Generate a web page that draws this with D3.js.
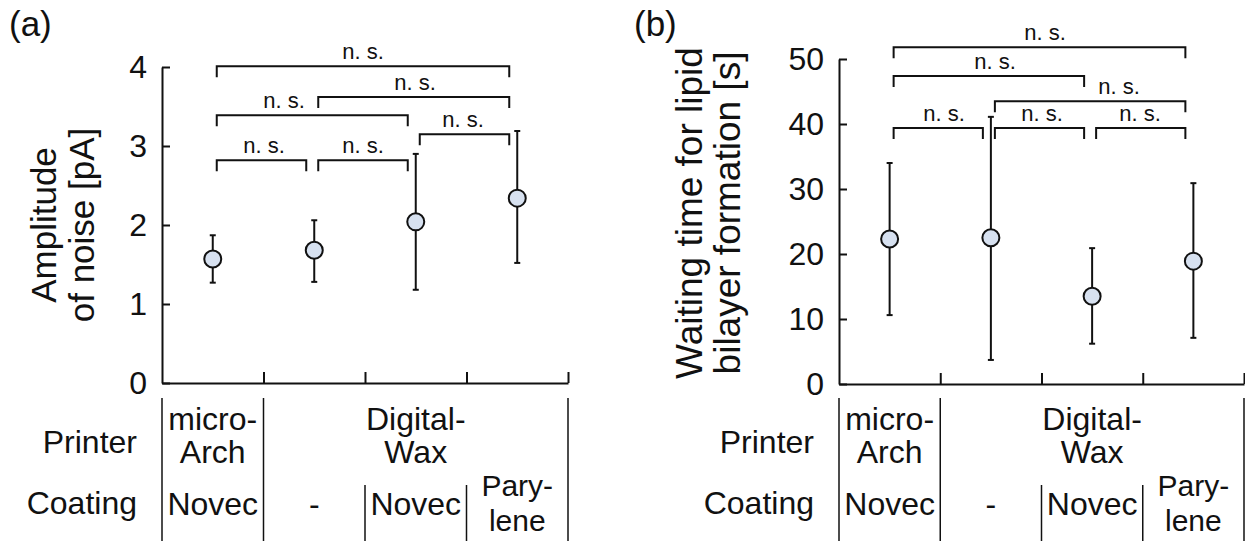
<!DOCTYPE html>
<html>
<head>
<meta charset="utf-8">
<script src="https://cdn.jsdelivr.net/npm/d3@7"></script>
<style>
  body { margin: 0; background: #fff; }
  svg { display: block; font-family: "Liberation Sans", Arial, sans-serif; }
</style>
</head>
<body>
<svg id="chart" width="1245" height="542"></svg>
<script>
// groups on the x axis (printer / coating)
var groups = ['micro-Arch Novec', 'Digital-Wax -', 'Digital-Wax Novec', 'Digital-Wax Parylene'];

// (a) amplitude of noise [pA]
var noiseMean = [1.57, 1.68, 2.04, 2.34];
var noiseLow = [1.27, 1.28, 1.18, 1.52];
var noiseHigh = [1.87, 2.06, 2.90, 3.19];
var noiseTicks = [0, 1, 2, 3, 4];
// comparisons: [from group, to group, bracket height]
var noisePairs = [[0, 3, 4.01], [1, 3, 3.62], [0, 2, 3.39], [2, 3, 3.15], [0, 1, 2.82], [1, 2, 2.82]];
var noisePairText = ['n. s.', 'n. s.', 'n. s.', 'n. s.', 'n. s.', 'n. s.'];

// (b) waiting time for lipid bilayer formation [s]
var waitMean = [22.3, 22.5, 13.5, 18.9];
var waitLow = [10.6, 3.7, 6.2, 7.1];
var waitHigh = [34.0, 41.1, 20.9, 30.9];
var waitTicks = [0, 10, 20, 30, 40, 50];
var waitPairs = [[0, 3, 51.8], [0, 2, 47.4], [1, 3, 43.5], [0, 1, 39.4], [1, 2, 39.4], [2, 3, 39.4]];
var waitPairText = ['n. s.', 'n. s.', 'n. s.', 'n. s.', 'n. s.', 'n. s.'];

// condition table under the plots
var printerRows = [{ text: ['micro-', 'Arch'], from: 0, to: 1 }, { text: ['Digital-', 'Wax'], from: 1, to: 4 }];
var coatingRows = [['Novec'], ['-'], ['Novec'], ['Pary-', 'lene']];

var svg = d3.select('#chart');

// draws one panel; layout numbers live here, not in the data
var drawPanel = function (p) {
  var g = svg.append('g');
  var x = d3.scaleLinear().domain([0, groups.length]).range([p.left, p.right]);
  var y = d3.scaleLinear().domain([0, p.ticks[p.ticks.length - 1]]).range([p.bottom, p.top]);
  var cx = function (i) { return x(i + 0.5); };

  // panel letter
  g.append('text').attr('x', p.letterX).attr('y', 36)
    .attr('font-size', 35).attr('fill', '#111').text(p.letter);

  // y axis, ticks pointing inward
  var yAxis = g.append('g').attr('transform', `translate(${p.left},0)`)
    .call(d3.axisLeft(y).tickValues(p.ticks).tickFormat(d3.format('d'))
      .tickSize(-8).tickSizeOuter(0).tickPadding(15));
  yAxis.selectAll('text').attr('font-size', 32).attr('fill', '#111')
    .attr('font-family', '"Liberation Sans", Arial, sans-serif');

  // x axis, group separators pointing up
  g.append('g').attr('transform', `translate(0,${p.bottom})`)
    .call(d3.axisBottom(x).tickValues(d3.range(1, groups.length + 1)).tickSize(-11).tickSizeOuter(0).tickFormat(''));

  g.selectAll('.domain, .tick line').attr('stroke', '#111').attr('stroke-width', 2);

  // y title on two lines
  var title = g.append('text').attr('transform', `translate(${p.titleX},${p.titleY}) rotate(-90)`)
    .attr('text-anchor', 'middle').attr('font-size', p.titleSize).attr('fill', '#111');
  p.title.forEach((t, i) => {
    title.append('tspan').attr('x', 0).attr('dy', i ? p.titleGap : 0).text(t);
  });

  // comparison brackets
  var br = g.selectAll('.bracket').data(p.pairs).enter().append('g');
  br.append('path')
    .attr('d', (d) => {
      var x0 = cx(d[0]) + 4, x1 = cx(d[1]) - 8, yy = y(d[2]);
      return `M${x0},${yy + 11}V${yy}H${x1}V${yy + 11}`;
    })
    .attr('fill', 'none').attr('stroke', '#111').attr('stroke-width', 2);
  br.append('text')
    .attr('x', (d, i) => p.labelAt[i])
    .attr('y', (d) => y(d[2]) - 7)
    .attr('text-anchor', 'middle').attr('font-size', 22).attr('fill', '#111')
    .text((d, i) => p.pairText[i]);

  // error bars
  var eb = g.selectAll('.err').data(p.mean).enter().append('g');
  eb.append('line')
    .attr('x1', (d, i) => cx(i)).attr('x2', (d, i) => cx(i))
    .attr('y1', (d, i) => y(p.low[i])).attr('y2', (d, i) => y(p.high[i]))
    .attr('stroke', '#111').attr('stroke-width', 2);
  [p.low, p.high].forEach((arr) => {
    eb.append('line')
      .attr('x1', (d, i) => cx(i) - 3).attr('x2', (d, i) => cx(i) + 3)
      .attr('y1', (d, i) => y(arr[i])).attr('y2', (d, i) => y(arr[i]))
      .attr('stroke', '#111').attr('stroke-width', 2);
  });
  eb.append('circle')
    .attr('cx', (d, i) => cx(i)).attr('cy', (d) => y(d)).attr('r', 8.5)
    .attr('fill', '#d7e1f0').attr('stroke', '#111').attr('stroke-width', 2);

  // condition table
  var tb = g.append('g').attr('font-size', 32).attr('fill', '#111');
  tb.append('text').attr('x', p.left - 25).attr('y', 453).attr('text-anchor', 'end').text('Printer');
  tb.append('text').attr('x', p.left - 25).attr('y', 514).attr('text-anchor', 'end').text('Coating');
  [0, 1, groups.length].forEach((k) => {
    tb.append('line').attr('x1', x(k)).attr('x2', x(k)).attr('y1', 398).attr('y2', 541)
      .attr('stroke', '#111').attr('stroke-width', 1.5);
  });
  [2, 3].forEach((k) => {
    tb.append('line').attr('x1', x(k)).attr('x2', x(k)).attr('y1', 485).attr('y2', 541)
      .attr('stroke', '#111').attr('stroke-width', 1.5);
  });
  printerRows.forEach((r) => {
    r.text.forEach((t, j) => {
      tb.append('text').attr('x', x((r.from + r.to) / 2)).attr('y', 430 + j * 33)
        .attr('text-anchor', 'middle').text(t);
    });
  });
  // two-line coating names are set a bit smaller so the lines do not collide
  coatingRows.forEach((r, i) => {
    r.forEach((t, j) => {
      var two = r.length > 1;
      tb.append('text').attr('x', cx(i)).attr('y', two ? 496 + j * 35 : 515)
        .attr('font-size', two ? 30 : 32)
        .attr('text-anchor', 'middle').text(t);
    });
  });
};

drawPanel({
  letter: '(a)', letterX: 9,
  left: 162, right: 568, top: 67, bottom: 383,
  ticks: noiseTicks, mean: noiseMean, low: noiseLow, high: noiseHigh,
  pairs: noisePairs, pairText: noisePairText,
  labelAt: [363, 415, 284, 463, 264, 363],
  title: ['Amplitude', 'of noise [pA]'], titleX: 56, titleY: 225, titleSize: 35, titleGap: 38
});

drawPanel({
  letter: '(b)', letterX: 634,
  left: 839, right: 1244, top: 59, bottom: 384,
  ticks: waitTicks, mean: waitMean, low: waitLow, high: waitHigh,
  pairs: waitPairs, pairText: waitPairText,
  labelAt: [1045, 995, 1119, 944, 1042, 1140],
  title: ['Waiting time for lipid', 'bilayer formation [s]'], titleX: 702, titleY: 213, titleSize: 37, titleGap: 38
});
</script>
</body>
</html>
